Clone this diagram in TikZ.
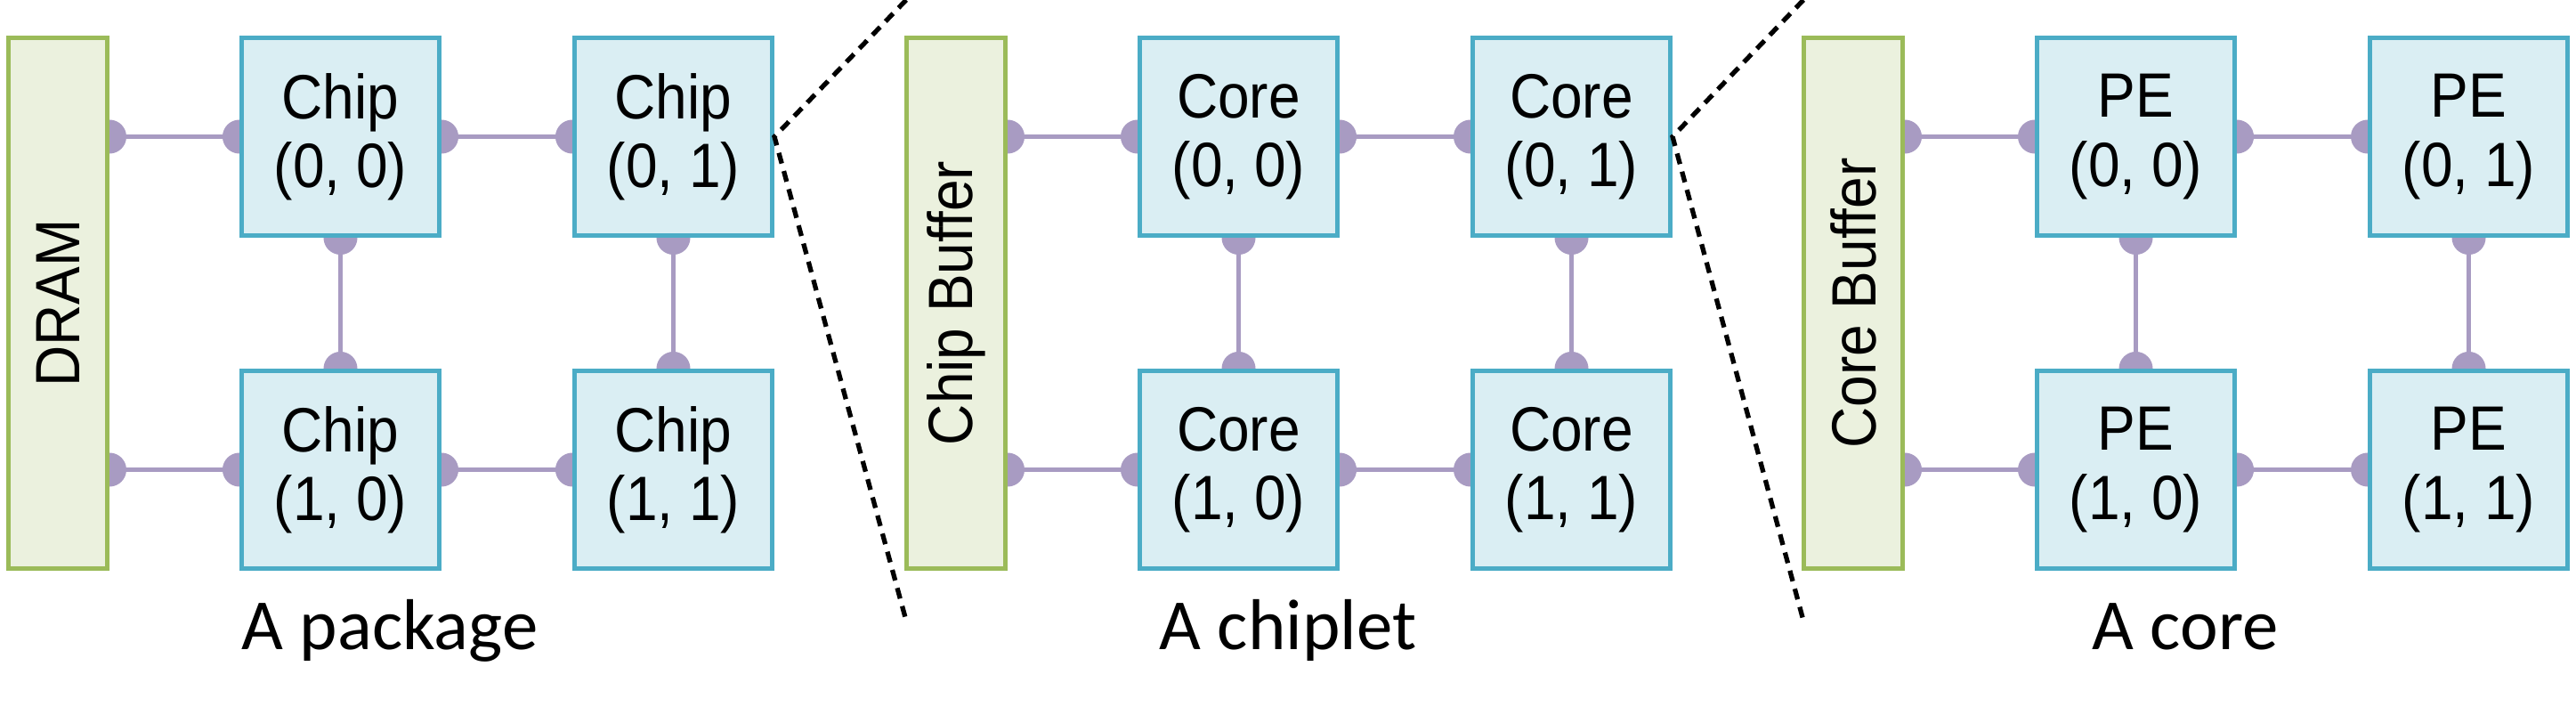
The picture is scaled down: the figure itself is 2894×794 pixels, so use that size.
\documentclass[tikz,border=0pt]{standalone}
\usepackage{fontspec}
\setmainfont{Liberation Sans}
\newfontfamily\boxfont[FakeStretch=0.91]{Liberation Sans}
\newfontfamily\capfont{Carlito}
\usetikzlibrary{backgrounds}
\definecolor{boxfill}{HTML}{DAEEF3}
\definecolor{boxdraw}{HTML}{4BACC6}
\definecolor{buffill}{HTML}{EBF1DE}
\definecolor{bufdraw}{HTML}{9BBB59}
\definecolor{linkc}{HTML}{A89BC2}
\tikzset{
  unitbox/.style={draw=boxdraw, fill=boxfill, line width=1.4pt, minimum width=2.22cm, minimum height=2.22cm, inner sep=0pt, align=center, font=\boxfont\fontsize{20}{22}\selectfont},
  bufbox/.style={draw=bufdraw, fill=buffill, line width=1.4pt, rotate=90, minimum width=5.96cm, minimum height=1.11cm, inner sep=0pt, font=\boxfont\fontsize{20}{24}\selectfont},
  link/.style={draw=linkc, line width=1.4pt},
  caption/.style={font=\capfont\fontsize{23}{27}\selectfont, anchor=base, inner sep=0pt},
  zoomline/.style={draw=black, line width=1.5pt, dash pattern=on 3.5pt off 2.5pt}
}
\newcommand\conn[2]{\draw[link] #1 -- #2; \fill[linkc] #1 circle[radius=0.19cm] #2 circle[radius=0.19cm];}
\newcommand\drawpanel[5]{%
  \node[bufbox] (#2b) at ({#1+57},340.5) {#3};
  \node[unitbox] (#2a) at ({#1+374.5},153.5) {#4\\(0, 0)};
  \node[unitbox] (#2c) at ({#1+748.5},153.5) {#4\\(0, 1)};
  \node[unitbox] (#2d) at ({#1+374.5},527.5) {#4\\(1, 0)};
  \node[unitbox] (#2e) at ({#1+748.5},527.5) {#4\\(1, 1)};
  \node[caption] (#2t) at ({#1+430},729) {#5};
  \begin{pgfonlayer}{background}
    \conn{(#2b.south |- #2a.west)}{(#2a.west)}
    \conn{(#2b.south |- #2d.west)}{(#2d.west)}
    \conn{(#2a.east)}{(#2c.west)}
    \conn{(#2d.east)}{(#2e.west)}
    \conn{(#2a.south)}{(#2d.north)}
    \conn{(#2c.south)}{(#2e.north)}
  \end{pgfonlayer}
}
\begin{document}
\begin{tikzpicture}[x=0.01cm, y=-0.01cm]
  \begin{pgfonlayer}{background}
    \fill[white] (0,0) rectangle (2894,794);
  \end{pgfonlayer}
  \useasboundingbox (0,0) rectangle (2894,794);
  \drawpanel{8}{p}{DRAM}{Chip}{A package}
  \drawpanel{1017}{q}{Chip Buffer}{Core}{A chiplet}
  \drawpanel{2025}{r}{Core Buffer}{PE}{A core}
  \coordinate (z1t) at (1018,0);
  \coordinate (z1b) at (1018,697);
  \coordinate (z2t) at (2026,0);
  \coordinate (z2b) at (2026,697);
  \draw[zoomline] (z1t) -- (pc.east) -- (z1b);
  \draw[zoomline] (z2t) -- (qc.east) -- (z2b);
\end{tikzpicture}
\end{document}
